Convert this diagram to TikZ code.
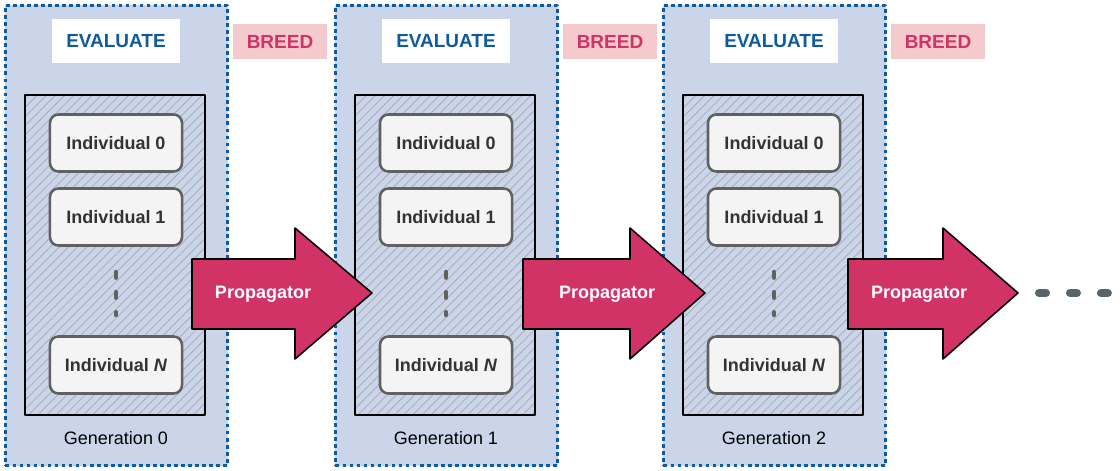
\documentclass[tikz,border=0pt]{standalone}
\usepackage{fontspec}
\setmainfont{Liberation Sans}
\usetikzlibrary{patterns.meta,positioning}
\definecolor{panelblue}{HTML}{CAD5EA}
\definecolor{dotblue}{HTML}{0B5CA5}
\definecolor{evalblue}{HTML}{0D5A9E}
\definecolor{breedpink}{HTML}{F5CACC}
\definecolor{propred}{HTML}{D23366}
\definecolor{indgray}{HTML}{F4F4F4}
\definecolor{textgray}{HTML}{333333}
\definecolor{hatchgray}{HTML}{A9AEB8}
\definecolor{moregray}{HTML}{56646B}
\newcommand{\basesize}{\fontsize{12.8}{15}\selectfont}
\newcommand{\tagsize}{\fontsize{13.5}{16}\selectfont}
\begin{document}
\begin{tikzpicture}[x=0.025cm, y=-0.025cm, font=\basesize, line join=round, >=stealth,
		genpanel/.style={draw=dotblue, line width=2.6pt, dash pattern=on 2.6pt off 2.4pt, fill=panelblue, minimum width=5.55cm, minimum height=11.5cm, inner sep=0pt},
		evalbox/.style={fill=white, text=evalblue, font=\tagsize\bfseries, minimum width=3.2cm, minimum height=1.075cm},
		breedbox/.style={fill=breedpink, text=propred, font=\tagsize\bfseries, minimum width=2.35cm, minimum height=0.875cm},
		popbox/.style={draw=black, line width=1.4pt, pattern={Lines[angle=45, distance=4.6pt, line width=0.6pt]}, pattern color=hatchgray, minimum width=4.5cm, minimum height=8cm, inner sep=0pt},
		indbox/.style={draw=black!62, line width=1.8pt, fill=indgray, rounded corners=6pt, text=textgray, font=\basesize\bfseries, minimum width=3.3cm, minimum height=1.425cm},
		vdots/.style={draw=black!62, line width=2.85pt, line cap=round, dash pattern=on 4.3pt off 10pt, shorten <=0.625cm, shorten >=0.5cm},
		genlabel/.style={text=black},
		propshape/.style={draw=black, line width=1.1pt, fill=propred},
		proplabel/.style={text=white, font=\basesize\bfseries},
		moredots/.style={draw=moregray, line width=5.7pt, line cap=round, dash pattern=on 5pt off 17pt, shorten <=0.525cm}]
	\useasboundingbox (0,0) rectangle (1120,471);
	% generations
	\foreach \g/\dx in {0/0,1/330,2/658}{
		\node[genpanel] (gen\g) at (116.5+\dx,235.5) {};
		\node[evalbox] (eval\g) at (116+\dx,41) {EVALUATE};
		\node[breedbox] (breed\g) at (280+\dx,42) {BREED};
		\node[popbox] (pop\g) at (115+\dx,255) {};
		\node[indbox] (ind\g-0) at (116+\dx,143) {Individual 0};
		\node[indbox] (ind\g-1) at (116+\dx,217) {Individual 1};
		\node[indbox] (ind\g-n) at (116+\dx,365) {Individual \textit{N}};
		\draw[vdots] (ind\g-1.south) -- (ind\g-n.north);
		\node[genlabel] (glab\g) at (116+\dx,438) {Generation \g};
	}
	% propagators
	\foreach \g/\l/\b/\t/\tx in {0/192/295/372/263, 1/523/630/705/607, 2/848/943/1018/919}{
		\draw[propshape] (\l,259) -- (\b,259) -- (\b,228) -- (\t,293) -- (\b,359) -- (\b,329) -- (\l,329) -- cycle;
		\coordinate (tip\g) at (\t,293);
		\node[proplabel] (prop\g) at (\tx,294) {Propagator};
	}
	\coordinate (more) at (1110,293);
	\draw[moredots] (tip2) -- (more);
\end{tikzpicture}
\end{document}
